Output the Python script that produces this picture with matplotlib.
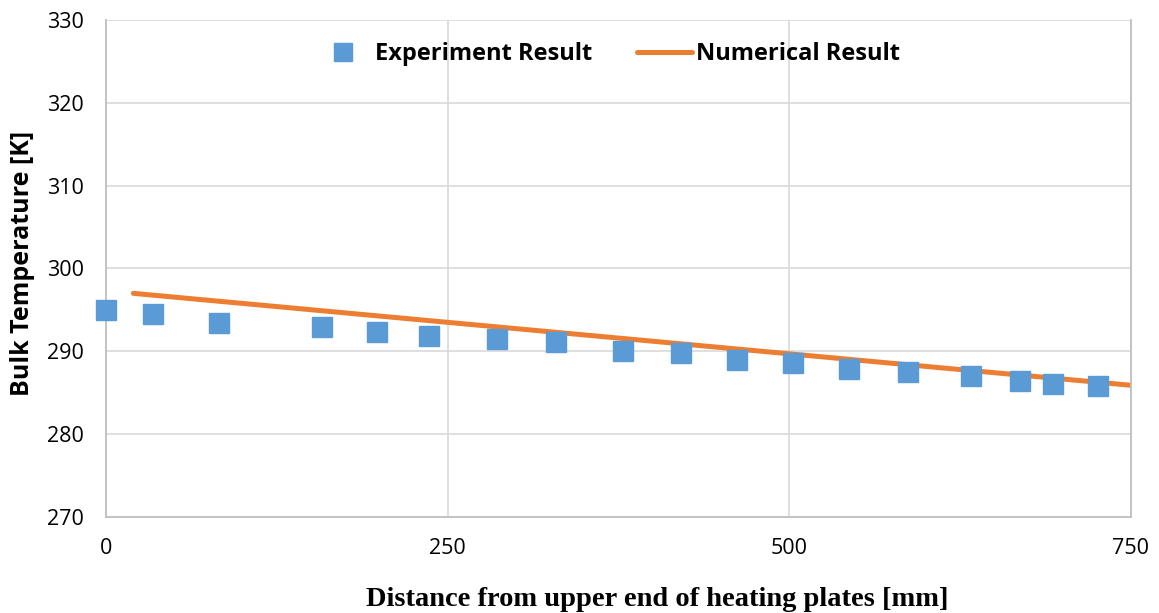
import matplotlib.pyplot as plt

# experiment points along the heating plates
exp_x = [0, 34, 83, 158, 198, 236, 286, 329, 378, 421, 462, 503, 544, 587, 633, 669, 693, 726]
exp_t = [295.0, 294.5, 293.4, 292.9, 292.3, 291.8, 291.5, 291.1, 290.0, 289.8,
         289.0, 288.6, 287.9, 287.5, 287.0, 286.4, 286.1, 285.8]

# numerical result
num_x = [20, 250, 500, 750]
num_t = [297.0, 293.5, 289.7, 285.9]

blue = '#5B9BD5'
orange = '#ED7D31'

fig = plt.figure(figsize=(11.59, 6.13), dpi=100)
ax = fig.add_axes([0.0915, 0.1566, 0.8843, 0.8108])

ax.plot(exp_x, exp_t, linestyle='none', marker='s', markersize=14.5,
        color=blue, label='Experiment Result', zorder=3, clip_on=False)
ax.plot(num_x, num_t, color=orange, linewidth=3.6, solid_capstyle='round',
        label='Numerical Result', zorder=2)

ax.set_xlim(0, 750)
ax.set_ylim(270, 330)
ax.set_xticks([0, 250, 500, 750])
ax.set_yticks(range(270, 331, 10))
ax.grid(True, color='#d9d9d9', linewidth=1.2)
ax.set_axisbelow(True)

ax.spines['top'].set_visible(False)
for side in ['left', 'bottom', 'right']:
    ax.spines[side].set_color('#bfbfbf')
    ax.spines[side].set_linewidth(1.3)

ax.tick_params(length=0, labelsize=15.5)
ax.tick_params(axis='x', pad=15)
ax.tick_params(axis='y', pad=16)
for lab in ax.get_xticklabels() + ax.get_yticklabels():
    lab.set_family('Open Sans')

ax.set_xlabel('Distance from upper end of heating plates [mm]',
              family='Liberation Serif', fontweight='bold', fontsize=20.5)
ax.xaxis.set_label_coords(0.538, -0.14)
ax.set_ylabel('Bulk Temperature [K]', family='Open Sans', fontweight='bold',
              fontsize=18)
ax.yaxis.set_label_coords(-0.069, 0.511)

leg = ax.legend(loc='center', ncol=2, frameon=False, bbox_to_anchor=(0.49, 0.932),
                prop={'family': 'Open Sans', 'weight': 'bold', 'size': 17},
                handlelength=2.3, handletextpad=0.2, columnspacing=1.9,
                markerscale=0.85)

fig.savefig('out.png', dpi=100)
